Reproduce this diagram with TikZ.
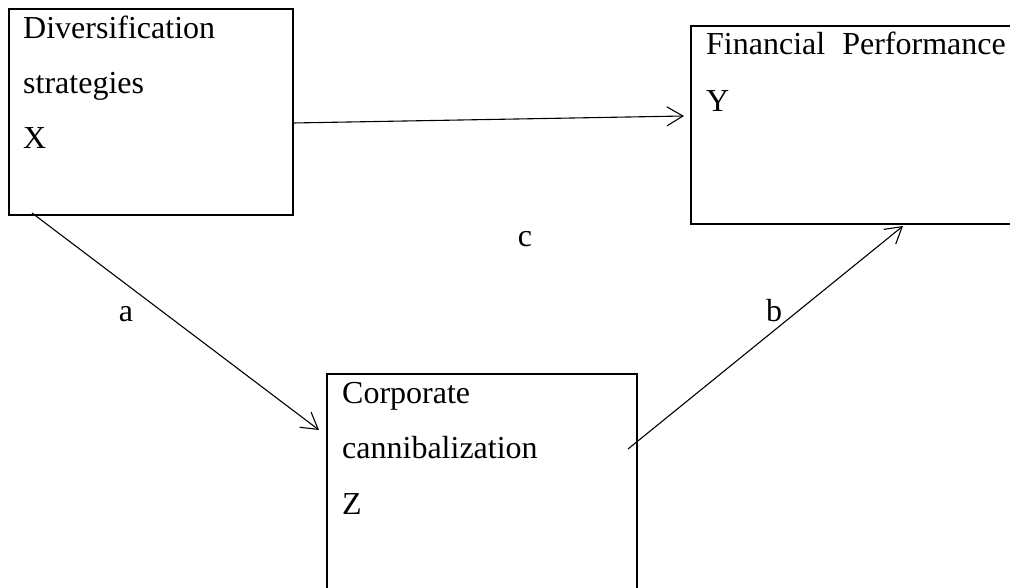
\documentclass[tikz,border=0pt]{standalone}
\usepackage{fontspec}
\setmainfont{Liberation Serif}
\usetikzlibrary{arrows.meta}
\begin{document}
\begin{tikzpicture}[x=1pt,y=-1pt,
  box/.style={draw, line width=2.2pt, rectangle, anchor=north west, inner sep=0pt, outer sep=0pt},
  txt/.style={anchor=base west, inner sep=0pt, font=\fontsize{32}{37}\selectfont},
  lab/.style={anchor=base, inner sep=0pt, font=\fontsize{32}{37}\selectfont},
  conn/.style={line width=1.1pt, -{Straight Barb[length=16pt,width=19pt,line width=1.1pt]}}]
\useasboundingbox (0,0) rectangle (1010,588);
% boxes
\node[box, minimum width=284pt, minimum height=206pt] (xbox) at (9,9) {};
\node[box, minimum width=330pt, minimum height=198pt] (ybox) at (691,26) {};
\node[box, minimum width=310pt, minimum height=240pt] (zbox) at (327,374) {};
% texts
\node[txt] (x1) at (23,38.5) {Diversification};
\node[txt] (x2) at (23,93.5) {strategies};
\node[txt] (x3) at (23,149) {X};
\node[txt] (y1) at (706,55) {Financial\hspace{17pt}Performance};
\node[txt] (y2) at (706,112) {Y};
\node[txt] (z1) at (342,403) {Corporate};
\node[txt] (z2) at (342,458) {cannibalization};
\node[txt] (z3) at (342,514) {Z};
% labels
\node[lab] (lc) at (525,247) {c};
\node[lab] (la) at (126,322) {a};
\node[lab] (lb) at (774,322) {b};
% connector endpoints
\coordinate (cs) at (293,123);
\coordinate (ce) at (684,116);
\coordinate (as) at (32,213);
\coordinate (ae) at (319,430);
\coordinate (bs) at (628,449);
\coordinate (be) at (903,226);
\draw[conn] (cs) -- (ce);
\draw[conn] (as) -- (ae);
\draw[conn] (bs) -- (be);
\end{tikzpicture}
\end{document}
